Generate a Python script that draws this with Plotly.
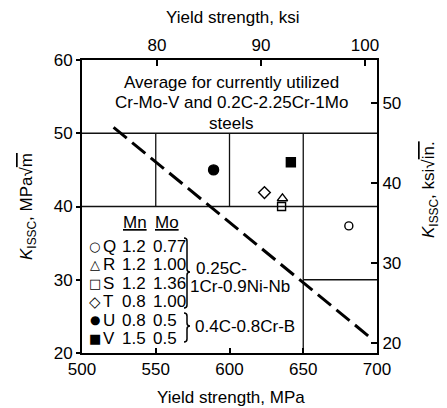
import plotly.graph_objects as go

# ---------------- data ----------------
ids = ["Q", "R", "S", "T", "U", "V"]
mn_vals = ["1.2", "1.2", "1.2", "0.8", "0.8", "1.5"]
mo_vals = ["0.77", "1.00", "1.36", "1.00", "0.5", "0.5"]
yield_mpa = [680.9, 635.9, 635.3, 623.7, 589.2, 641.6]
kissc_mpa = [37.35, 41.1, 40.0, 41.9, 45.0, 46.05]
marker_symbols = ["circle-open", "triangle-up-open", "square-open", "diamond-open", "circle", "square"]
marker_sizes = [8, 9, 8, 9, 10, 9]
legend_glyphs = ["○", "△", "□", "◇", "●", "■"]
trend_x = [521.4, 694.9]
trend_y = [50.8, 22.2]
x_ticks_mpa = [500, 550, 600, 650, 700]
y_ticks_mpa = [20, 30, 40, 50, 60]
x_ticks_ksi = [80, 90, 100]
y_ticks_ksi = [20, 30, 40, 50]
note_lines = ["Average for currently utilized", "Cr-Mo-V and 0.2C-2.25Cr-1Mo", "steels"]
group_labels = [["0.25C-", "1Cr-0.9Ni-Nb"], ["0.4C-0.8Cr-B"]]

FONT = "Liberation Sans, Arial, Helvetica, sans-serif"
FS = 17

# plot area in pixels
L, R, T, B = 82, 70, 60, 55
W, H = 447, 408
PW, PH = W - L - R, H - T - B


def px(x):
    return (x - L) / PW


def py(y):
    return (H - B - y) / PH


fig = go.Figure()

# grid segments (partial grid as in the original)
grid = [
    (500, 50, 700, 50), (500, 40, 700, 40), (650, 30, 700, 30),
    (550, 40, 550, 50), (600, 40, 600, 50), (650, 20, 650, 50),
]
for x0, y0, x1, y1 in grid:
    fig.add_shape(type="line", xref="x", yref="y", x0=x0, y0=y0, x1=x1, y1=y1,
                  line=dict(color="#111", width=1.3), layer="below")

# trend line
fig.add_trace(go.Scatter(x=trend_x, y=trend_y, mode="lines",
                         line=dict(color="black", width=3, dash="17px,7px"),
                         showlegend=False, hoverinfo="skip"))

# points
for i in range(len(ids)):
    fig.add_trace(go.Scatter(
        x=[yield_mpa[i]], y=[kissc_mpa[i]], mode="markers",
        marker=dict(symbol=marker_symbols[i], size=marker_sizes[i], color="black",
                    line=dict(color="black", width=1.4)),
        showlegend=False, name=ids[i]))

# dummy trace for secondary axes
fig.add_trace(go.Scatter(x=[90], y=[40], xaxis="x2", yaxis="y2", mode="markers",
                         marker=dict(opacity=0), showlegend=False, hoverinfo="skip"))

ann = []


def text(x, y, s, xanchor="center", size=FS, angle=0):
    ann.append(dict(x=px(x), y=py(y), xref="paper", yref="paper", text=s,
                    showarrow=False, xanchor=xanchor, yanchor="middle",
                    textangle=angle, font=dict(family=FONT, size=size, color="black")))


# note box text
for k, line in enumerate(note_lines):
    text(231, 82 + k * 20.8, line)

# legend header
text(121, 222, "<u>Mn</u>", xanchor="left")
text(152.5, 222, "<u>Mo</u>", xanchor="left")

# legend rows
glyph_sizes = [13, 13, 13, 15, 12, 13]
for i in range(len(ids)):
    yy = 246 + i * 18.5
    ann.append(dict(x=px(94.5), y=py(yy), xref="paper", yref="paper", text=legend_glyphs[i],
                    showarrow=False, xanchor="center", yanchor="middle",
                    font=dict(family="DejaVu Sans", size=glyph_sizes[i], color="black")))
    text(100.5, yy, ids[i], xanchor="left")
    text(119.5, yy, mn_vals[i], xanchor="left")
    text(150.5, yy, mo_vals[i], xanchor="left")

# group labels
text(193.5, 268.5, group_labels[0][0], xanchor="left")
text(187.5, 286, group_labels[0][1], xanchor="left")
text(193, 326.5, group_labels[1][0], xanchor="left")


def brace(x0, ytop, ybot, ymid, w=6):
    xm = x0 + w / 2
    r = 3
    pts = (f"M {px(x0)},{py(ytop)} Q {px(xm)},{py(ytop)} {px(xm)},{py(ytop + r)} "
           f"L {px(xm)},{py(ymid - r)} Q {px(xm)},{py(ymid)} {px(x0 + w)},{py(ymid)} "
           f"Q {px(xm)},{py(ymid)} {px(xm)},{py(ymid + r)} "
           f"L {px(xm)},{py(ybot - r)} Q {px(xm)},{py(ybot)} {px(x0)},{py(ybot)}")
    fig.add_shape(type="path", xref="paper", yref="paper", path=pts,
                  line=dict(color="black", width=1.5))


brace(184, 238, 308, 272)
brace(184, 313, 342, 326)

# axis titles
text(231, 397, "Yield strength, MPa")
text(233, 17, "Yield strength, ksi")
text(28, 207, "<i>K</i><sub>ISSC</sub>, MPa√<span style='text-decoration:overline'>m</span>", angle=-90)
text(430, 190, "<i>K</i><sub>ISSC</sub>, ksi√<span style='text-decoration:overline'>in.</span>", angle=-90)

axis_common = dict(showgrid=False, zeroline=False, showline=True, linecolor="black",
                   linewidth=2, tickcolor="black", tickwidth=1.5,
                   tickfont=dict(family=FONT, size=FS, color="black"))

fig.update_layout(
    width=W, height=H,
    margin=dict(l=L, r=R, t=T, b=B),
    paper_bgcolor="white", plot_bgcolor="white",
    showlegend=False,
    annotations=ann,
    xaxis=dict(range=[500, 700], tickvals=x_ticks_mpa, ticks="inside", ticklen=5, **axis_common),
    yaxis=dict(range=[20, 60], tickvals=y_ticks_mpa, ticks="outside", ticklen=4, **axis_common),
    xaxis2=dict(range=[72.8, 101.15], tickvals=x_ticks_ksi, overlaying="x", side="top",
                ticks="inside", ticklen=6, **axis_common),
    yaxis2=dict(range=[18.75, 55.4], tickvals=y_ticks_ksi, overlaying="y", side="right",
                ticks="inside", ticklen=6, **axis_common),
)

fig.write_html("out.html")
